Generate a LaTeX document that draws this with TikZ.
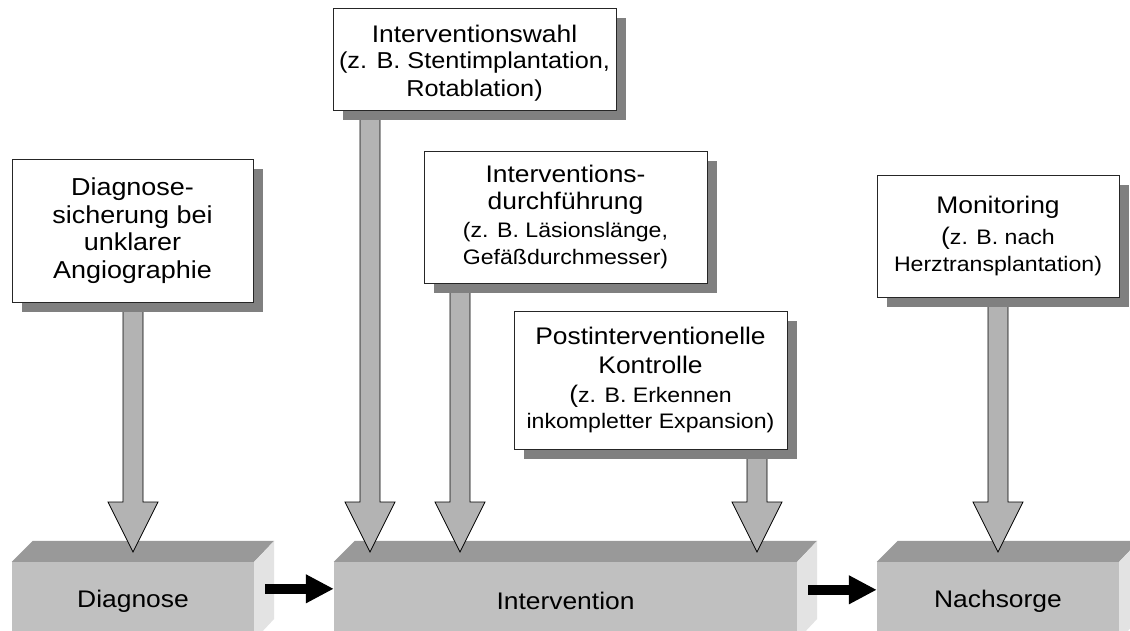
\documentclass[tikz,border=0pt]{standalone}
\usepackage{fontspec}
\setmainfont[FakeStretch=1.1]{Liberation Sans}
\usetikzlibrary{calc,arrows.meta,shadows}

\definecolor{facefront}{HTML}{C0C0C0}
\definecolor{facetop}{HTML}{999999}
\definecolor{faceside}{HTML}{E3E3E3}
\definecolor{arrowgray}{HTML}{B3B3B3}
\definecolor{shadowgray}{HTML}{808080}

\newcommand{\sub}[1]{{\fontsize{21}{27}\selectfont #1}}
\newcommand{\bigsub}[1]{{\fontsize{23}{27}\selectfont #1}}
\newcommand{\bigparen}{{\fontsize{24}{27}\selectfont(}}
\newcommand{\lowered}[1]{\raisebox{-4pt}[\height][\depth]{#1}}

\pgfdeclarelayer{solids}
\pgfdeclarelayer{arrowlayer}
\pgfsetlayers{solids,arrowlayer,main}

\tikzset{
  infobox/.style={draw=black!85, line width=1pt, fill=white, align=center, inner sep=0pt,
    font=\fontsize{24}{27.5}\selectfont,
    drop shadow={shadow xshift=10pt, shadow yshift=-10pt, fill=shadowgray, opacity=1}},
  stage/.style={fill=facefront, inner sep=0pt, minimum height=78pt, font=\fontsize{24}{27.5}\selectfont},
  fatarrow/.style={fill=arrowgray, draw=black, line width=0.8pt, line join=miter,
    to path={let \p1=(\tikztostart), \p2=(\tikztotarget) in
      (\x1-10pt,\y1) -- (\x1-10pt,\y2+50pt) -- (\x1-25pt,\y2+50pt) -- (\x1,\y2)
      -- (\x1+25pt,\y2+50pt) -- (\x1+10pt,\y2+50pt) -- (\x1+10pt,\y1) -- cycle}},
  flowarrow/.style={line width=9.5pt, -{Triangle[length=28pt,width=27pt]}}
}

\begin{document}
\begin{tikzpicture}[x=1pt,y=-1pt]
\useasboundingbox (0,0) rectangle (1130,630);
% ---- stages (3d blocks, drawn first) ----
\begin{pgfonlayer}{solids}
\fill[white] (0,0) rectangle (1130,630);
\node[stage, minimum width=242] (diagnose) at (133,601) {Diagnose};
\node[stage, minimum width=463] (intervention) at (565.5,601) {Intervention};
\node[stage, minimum width=242] (nachsorge) at (998,601) {Nachsorge};
\foreach \st in {diagnose,intervention,nachsorge} {
  \fill[facetop] (\st.north west) -- ++(21,-21) -- ($(\st.north east)+(20,-21)$) -- (\st.north east) -- cycle;
  \fill[faceside] (\st.north east) -- ++(20,-21) -- ++(0,78) -- (\st.south east) -- cycle;
}
\end{pgfonlayer}
% ---- flow between stages ----
\draw[flowarrow] ($(diagnose.north east)+(11,27)$) -- ($(intervention.north west)+(0,27)$);
\draw[flowarrow] ($(intervention.north east)+(11,28)$) -- ($(nachsorge.north west)+(0,28)$);
% ---- info boxes ----
\node[infobox, minimum width=241, minimum height=143, font=\fontsize{24.5}{27.5}\selectfont] (diag) at (132.5,230.5)
  {Diagnose-\\sicherung bei\\unklarer\\Angiographie};
\node[infobox, minimum width=283, minimum height=102] (wahl) at (474.5,59)
  {\lowered{Interventionswahl}\\[-1pt]\lowered{\bigsub{(z. B. Stentimplantation,}}\\\lowered{\bigsub{Rotablation)}}};
\node[infobox, minimum width=283, minimum height=132] (durch) at (565.5,217)
  {Interventions-\\durchführung\\\sub{(z. B. Läsionslänge,}\\\sub{Gefäßdurchmesser)}};
\node[infobox, minimum width=273, minimum height=138] (post) at (650.5,380)
  {Postinterventionelle\\[2pt]Kontrolle\\[1pt]\sub{\bigparen z. B. Erkennen}\\[-1pt]\sub{inkompletter Expansion)}};
\node[infobox, minimum width=242, minimum height=122] (monitor) at (998,236)
  {Monitoring\\[3pt]\sub{\bigparen z. B. nach}\\\sub{Herztransplantation)}};
% ---- arrow tips on the stages ----
\coordinate (tipD) at (133,552);
\coordinate (tipW) at (370,552);
\coordinate (tipU) at (460,552);
\coordinate (tipP) at (757,552);
\coordinate (tipM) at (998,552);
\begin{pgfonlayer}{arrowlayer}
\foreach \src/\tip in {diag/tipD, wahl/tipW, durch/tipU, post/tipP, monitor/tipM}
  \draw[fatarrow] (\src.south -| \tip) to (\tip);
\end{pgfonlayer}
\end{tikzpicture}
\end{document}
